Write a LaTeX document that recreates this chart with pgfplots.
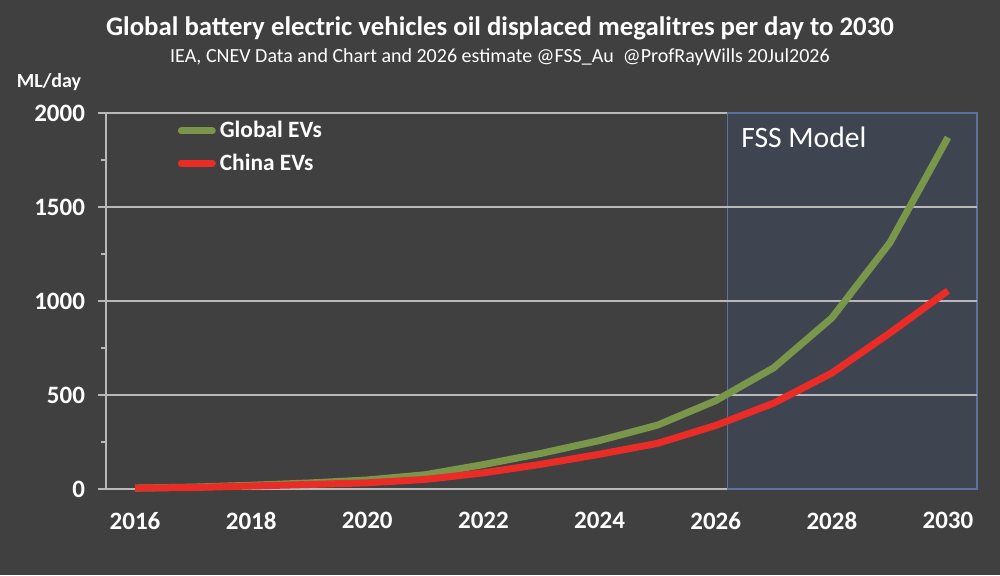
\documentclass[border=0pt]{standalone}
\usepackage{pgfplots}
\pgfplotsset{compat=1.18}
\usepackage{fontspec}
\setmainfont{Carlito}
\definecolor{bgcol}{RGB}{64,64,64}
\definecolor{boxfill}{RGB}{62,69,81}
\definecolor{boxdraw}{RGB}{92,114,156}
\definecolor{gridcol}{RGB}{185,185,185}
\definecolor{evgreen}{RGB}{122,150,74}
\definecolor{evred}{RGB}{234,44,38}
\begin{document}
\begin{tikzpicture}
\fill[bgcol] (0,0) rectangle (500pt,287.5pt);
\node[text=white, font=\bfseries\fontsize{13.4}{15}\selectfont] at (250pt,273.5pt) {Global battery electric vehicles oil displaced megalitres per day to 2030};
\node[text=white, font=\fontsize{10}{12}\selectfont] at (250pt,259pt) {IEA, CNEV Data and Chart and 2026 estimate @FSS\_Au\ \ @ProfRayWills 20Jul2026};
\node[text=white, font=\bfseries\fontsize{10}{12}\selectfont] at (24.5pt,246.5pt) {ML/day};
\begin{axis}[
  at={(53pt,43pt)}, anchor=origin,
  scale only axis, width=435.5pt, height=188pt,
  xmin=2015.5, xmax=2030.5, ymin=0, ymax=2000,
  xtick={2016,2018,...,2030},
  ytick={0,500,1000,1500,2000},
  minor ytick={250,750,1250,1750},
  /pgf/number format/assume math mode=true,
  /pgf/number format/1000 sep={},
  ticklabel style={text=white, font=\bfseries\fontsize{12.5}{14}\selectfont},
  xticklabel style={yshift=-4pt},
  yticklabel style={xshift=-3pt},
  axis x line*=bottom, axis y line*=left,
  x axis line style={draw=none},
  y axis line style={draw=gridcol, line width=0.75pt},
  xtick style={draw=none},
  ytick style={draw=gridcol, line width=0.75pt},
  tick align=outside,
  major tick length=4pt, minor tick length=2.5pt,
  ymajorgrids,
  major grid style={draw=gridcol, line width=0.75pt},
  clip=false,
  legend cell align=left,
  legend style={at={(0.082,0.99)}, anchor=north west, draw=none, fill=none,
    text=white, font=\bfseries\fontsize{11.7}{13}\selectfont, row sep=2.5pt,
    inner sep=0pt},
  legend image code/.code={\draw[#1, line width=3.5pt, line cap=round] (1.5pt,0pt) -- (17pt,0pt);},
]
\draw[fill=boxfill, draw=boxdraw, line width=0.6pt] (axis cs:2026.2,0) rectangle (axis cs:2030.5,2000);
\draw[gridcol, line width=0.75pt] (axis cs:2026.2,500) -- (axis cs:2030.5,500)
  (axis cs:2026.2,1000) -- (axis cs:2030.5,1000)
  (axis cs:2026.2,1500) -- (axis cs:2030.5,1500);
\addplot[evgreen, line width=3.5pt, line join=round] coordinates {
(2016,5) (2017,10) (2018,20) (2019,32) (2020,48) (2021,76) (2022,130) (2023,190)
(2024,258) (2025,340) (2026,470) (2027,645) (2028,910) (2029,1310) (2030,1870)};
\addlegendentry{Global EVs}
\addplot[evred, line width=3.5pt, line join=round] coordinates {
(2016,5) (2017,8) (2018,16) (2019,24) (2020,33) (2021,51) (2022,86) (2023,132)
(2024,185) (2025,243) (2026,338) (2027,457) (2028,617) (2029,830) (2030,1055)};
\addlegendentry{China EVs}
\node[anchor=west, text=white, font=\fontsize{14.8}{17}\selectfont] at (axis cs:2026.32,1870) {FSS Model};
\end{axis}
\end{tikzpicture}
\end{document}
